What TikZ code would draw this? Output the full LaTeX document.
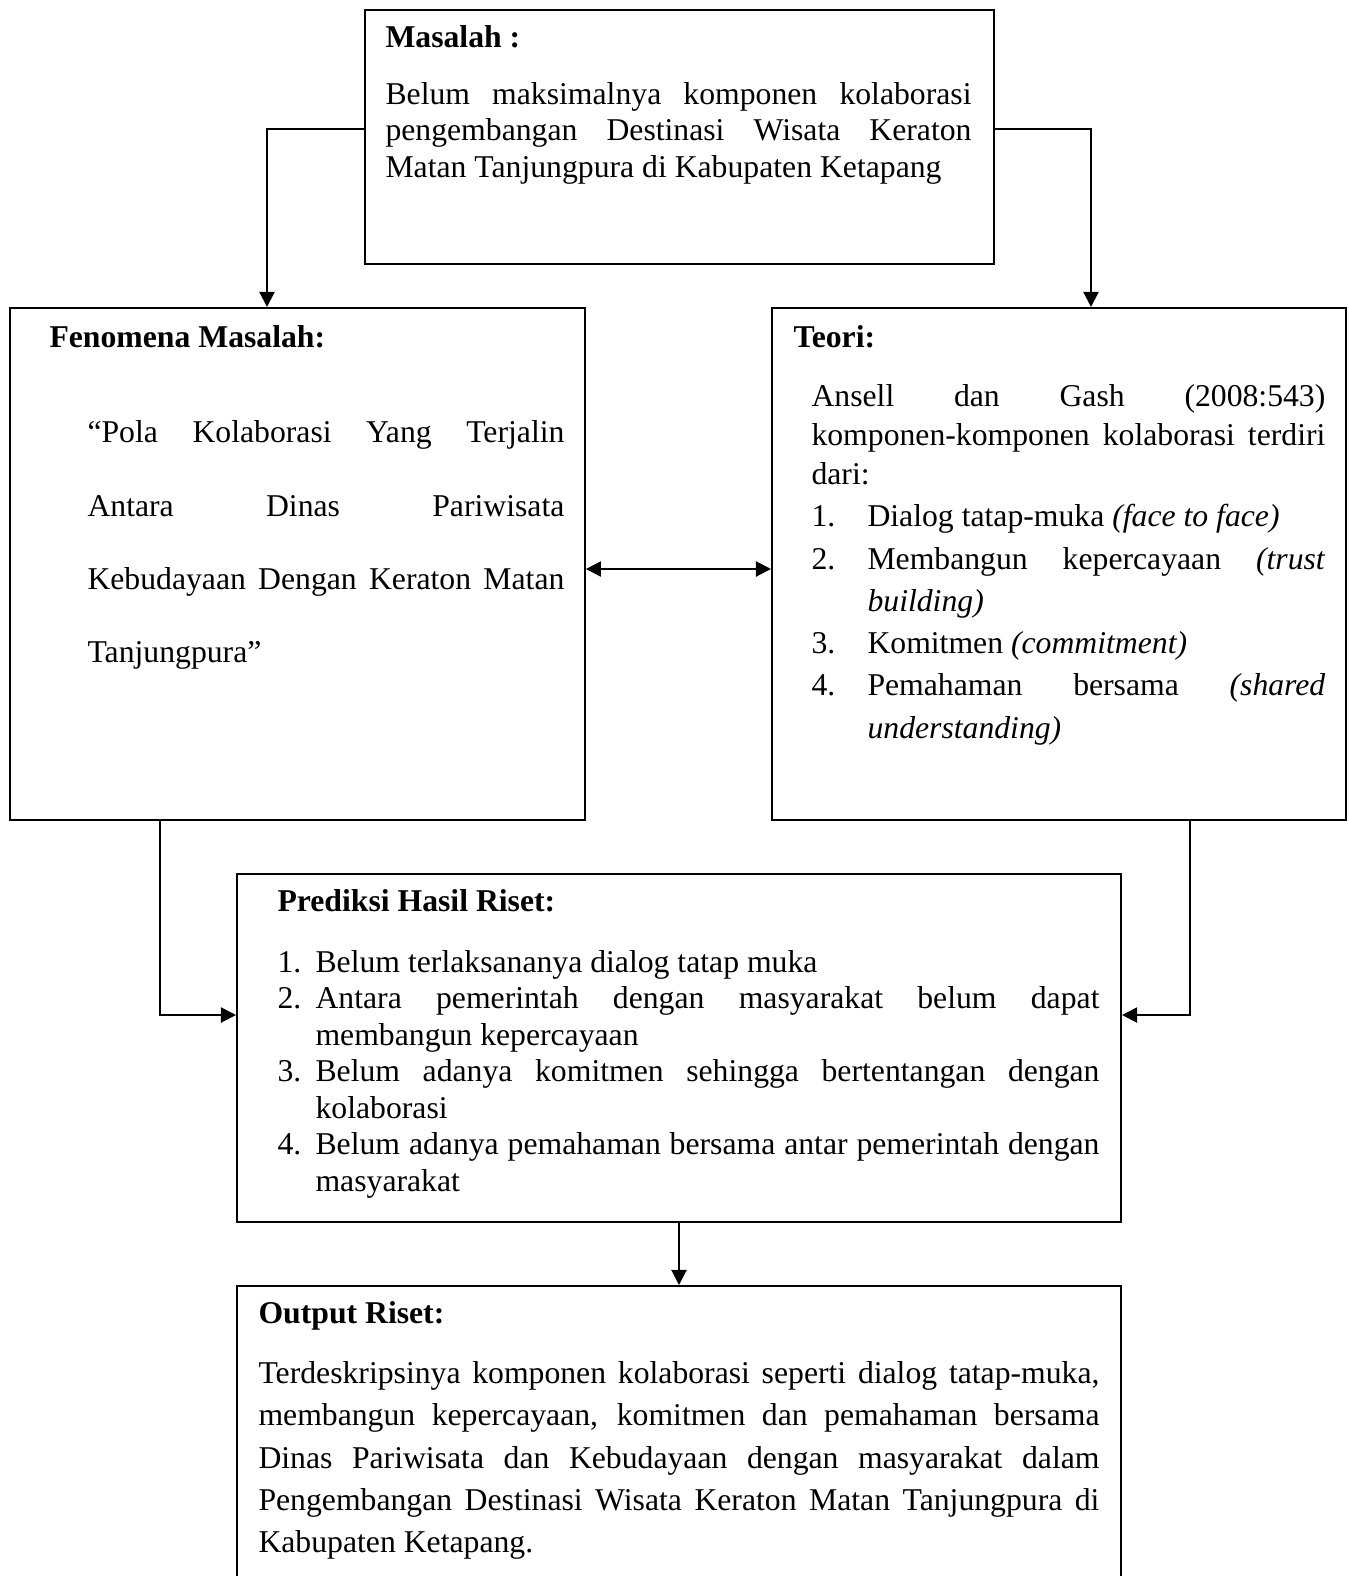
\documentclass[tikz,border=0pt]{standalone}
\usepackage{fontspec}
\setmainfont{Liberation Serif}
\usetikzlibrary{arrows.meta}
\tolerance=10000
\hbadness=10000
\newcommand{\numitem}[2]{\par\noindent\hangindent=#1\hangafter=1\makebox[#1][l]{#2}}
\newcommand{\lsp}[1]{\fontsize{12}{#1}\selectfont}

\begin{document}
\begin{tikzpicture}[x=0.3785pt,y=-0.3785pt,
  every node/.style={font=\lsp{13.8}},
  box/.style={draw,line width=0.75pt,inner sep=0pt,anchor=north west},
  title/.style={font=\lsp{13.8}\bfseries,inner sep=0pt,anchor=base west},
  txt/.style={inner sep=0pt,anchor=north west,align=justify,text width=#1},
  arr/.style={-{Triangle[length=5.7pt,width=5.7pt]},line width=0.75pt},
  arrs/.style={{Triangle[length=5.7pt,width=5.7pt]}-{Triangle[length=5.7pt,width=5.7pt]},line width=0.75pt}]
  \useasboundingbox (0,0) rectangle (1349,1576);
  \clip (0,0) rectangle (1349,1576);

  % boxes
  \node[box,minimum width=238.1pt,minimum height=96.1pt] (mas) at (364,9) {};
  \node[box,minimum width=217.6pt,minimum height=193.8pt] (fen) at (9,307) {};
  \node[box,minimum width=217.3pt,minimum height=193.8pt] (teo) at (771,307) {};
  \node[box,minimum width=334.6pt,minimum height=131.7pt] (pred) at (236,873) {};
  \node[box,minimum width=334.6pt,minimum height=119.2pt] (out) at (236,1285) {};

  % Masalah
  \node[title] (masT) at (385,47) {Masalah :};
  \node[txt=221.8pt] (masB) at (385,81.8) {Belum maksimalnya komponen kolaborasi\linebreak
    pengembangan Destinasi Wisata Keraton\linebreak
    Matan Tanjungpura di Kabupaten Ketapang};

  % Fenomena Masalah
  \node[title] (fenT) at (49,347) {Fenomena Masalah:};
  \node[txt=180.5pt] (fenB) at (87,420.3) {\lsp{27.75}“Pola Kolaborasi Yang Terjalin\linebreak
    Antara Dinas Pariwisata\linebreak
    Kebudayaan Dengan Keraton Matan\linebreak
    Tanjungpura”\par};

  % Teori
  \node[title] (teoT) at (793,347) {Teori:};
  \node[txt=194.5pt] (teoB) at (811,383.8) {\lsp{14.8}Ansell dan Gash (2008:543)\linebreak
    komponen-komponen kolaborasi terdiri\linebreak dari:\par
    \lsp{16}%
    \numitem{21.2pt}{1.}Dialog tatap-muka \textit{(face to face)}\par
    \numitem{21.2pt}{2.}Membangun kepercayaan \textit{(trust}\linebreak \textit{building)}\par
    \numitem{21.2pt}{3.}Komitmen \textit{(commitment)}\par
    \numitem{21.2pt}{4.}Pemahaman bersama \textit{(shared}\linebreak \textit{understanding)}\par};

  % Prediksi Hasil Riset
  \node[title] (predT) at (277,911) {Prediksi Hasil Riset:};
  \node[txt=311.1pt] (predB) at (277,935.5) {%
    \numitem{14.4pt}{1.}Belum terlaksananya dialog tatap muka\par
    \numitem{14.4pt}{2.}Antara pemerintah dengan masyarakat belum dapat\linebreak membangun kepercayaan\par
    \numitem{14.4pt}{3.}Belum adanya komitmen sehingga bertentangan dengan\linebreak kolaborasi\par
    \numitem{14.4pt}{4.}Belum adanya pemahaman bersama antar pemerintah dengan\linebreak masyarakat\par};

  % Output Riset
  \node[title] (outT) at (258,1323) {Output Riset:};
  \node[txt=318.3pt] (outB) at (258,1361) {\lsp{16}Terdeskripsinya komponen kolaborasi seperti dialog tatap-muka,\linebreak
    membangun kepercayaan, komitmen dan pemahaman bersama\linebreak
    Dinas Pariwisata dan Kebudayaan dengan masyarakat dalam\linebreak
    Pengembangan Destinasi Wisata Keraton Matan Tanjungpura di\linebreak
    Kabupaten Ketapang.\par};

  % connectors
  \draw[arr] (mas.west |- 0,129) -| (fen.north -| 267,0);
  \draw[arr] (mas.east |- 0,129) -| (teo.north -| 1091,0);
  \draw[arrs] (fen.east |- 0,569) -- (teo.west |- 0,569);
  \draw[arr] (fen.south -| 160,0) |- (pred.west |- 0,1015);
  \draw[arr] (teo.south -| 1190,0) |- (pred.east |- 0,1015);
  \draw[arr] (pred.south) -- (out.north);
\end{tikzpicture}
\end{document}
